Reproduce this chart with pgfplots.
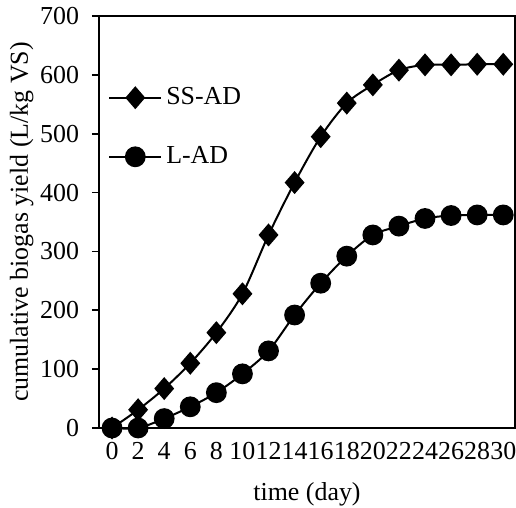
\documentclass[border=0pt]{standalone}
\usepackage{fontspec}
\setmainfont{Liberation Serif}
\usepackage{pgfplots}
\pgfplotsset{compat=1.18}

\begin{document}
\begin{tikzpicture}
\begin{axis}[scale only axis,width=208bp,height=206bp,
xmin=-1,xmax=30.9,ymin=0,ymax=700,
xtick={0,2,...,30},ytick={0,100,...,700},
xtick pos=bottom,ytick pos=left,tick align=outside,
major tick length=3.5bp,x tick style={draw=none},
y tick style={line width=0.8bp,black},
/pgf/number format/assume math mode=true,
tick label style={font=\fontsize{13}{15}\selectfont},
yticklabel style={xshift=-3bp},
label style={font=\fontsize{13}{15}\selectfont},
xlabel={time (day)},ylabel={cumulative biogas yield (L/kg VS)},
xlabel style={yshift=-4.5bp},ylabel style={yshift=-3.5bp},
axis line style={line width=0.9bp},
clip=false,
legend style={draw=none,fill=none,at={(0.007,0.73)},anchor=west,
  font=\fontsize{13}{15}\selectfont,row sep=15.5bp,inner xsep=3bp},
legend cell align=left,
legend image code/.code={\draw[mark repeat=2,mark phase=2]
  plot coordinates {(0bp,0bp)(13bp,0bp)(26bp,0bp)};}]
\addplot[black,line width=1bp,smooth,tension=0.5,mark=diamond*,
  mark size=5bp,mark options={xscale=1.15,solid}] coordinates
{(0,0)(2,31)(4,67)(6,110)(8,162)(10,228)(12,328)(14,417)(16,495)(18,552)
(20,583)(22,608)(24,617)(26,617)(28,618)(30,618)};
\addlegendentry{SS-AD}
\addplot[black,line width=1bp,smooth,tension=0.5,mark=*,
  mark size=4.7bp,mark options={solid}] coordinates
{(0,0)(2,0)(4,16)(6,36)(8,60)(10,92)(12,131)(14,192)(16,246)(18,292)
(20,328)(22,343)(24,356)(26,361)(28,362)(30,362)};
\addlegendentry{L-AD}
\end{axis}
\pgfresetboundingbox
\path[use as bounding box] (-49.5bp,-40bp) rectangle (208.5bp,214bp);
\end{tikzpicture}
\end{document}
